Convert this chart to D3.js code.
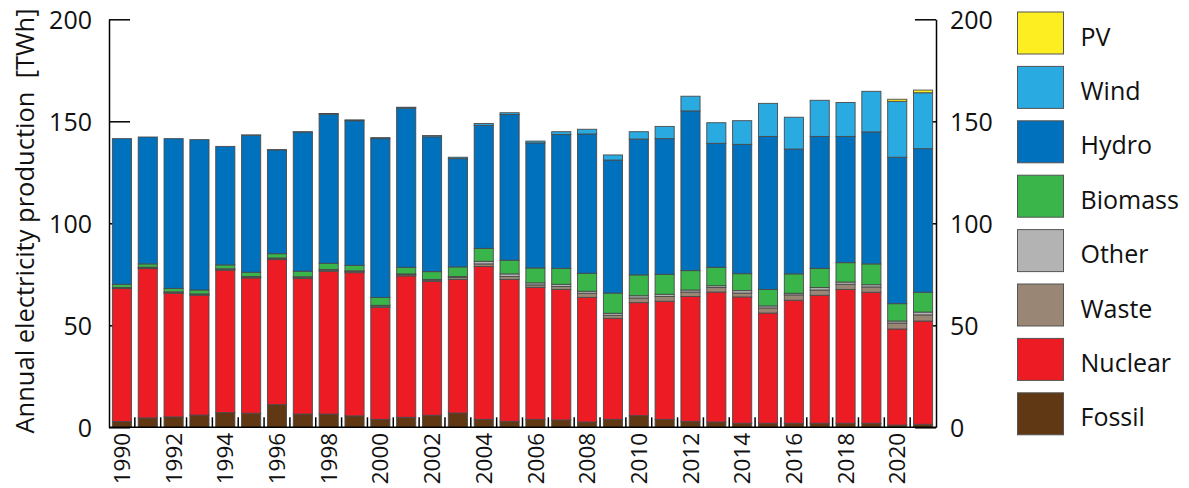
<!DOCTYPE html>
<html>
<head>
<meta charset="utf-8">
<script src="https://cdn.jsdelivr.net/npm/d3@7"></script>
<style>
  html, body { margin: 0; padding: 0; background: #fff; }
  svg { display: block; font-family: "Open Sans", sans-serif; }
</style>
</head>
<body>
<svg id="chart" width="1189" height="488"></svg>
<script>
const years = [1990,1991,1992,1993,1994,1995,1996,1997,1998,1999,2000,2001,2002,2003,2004,2005,
               2006,2007,2008,2009,2010,2011,2012,2013,2014,2015,2016,2017,2018,2019,2020,2021];
const fossil  = [2.8,4.6,5.1,6.0,7.2,6.9,11.1,6.5,6.5,5.6,3.9,4.9,5.9,7.0,3.9,2.9,3.9,3.6,2.6,3.9,5.7,3.9,2.9,2.6,2.0,2.0,2.0,2.0,2.0,2.0,1.1,1.5];
const nuclear = [65.2,73.2,60.6,58.7,69.8,66.3,71.1,66.4,70.0,70.2,54.9,69.3,65.7,65.5,74.9,69.6,64.7,64.0,61.1,49.5,55.4,57.9,61.2,63.7,61.9,54.0,60.3,62.7,65.6,64.2,47.1,50.6];
const waste   = [0.3,0.4,0.4,0.4,0.4,0.4,0.5,0.6,0.6,0.6,0.6,0.6,0.5,0.9,1.3,1.4,1.2,1.4,2.0,1.5,2.3,2.3,2.2,2.2,1.9,2.5,2.6,2.6,2.5,2.6,2.9,3.0];
const other   = [0.2,0.3,0.3,0.3,0.3,0.3,0.3,0.3,0.3,0.3,0.4,0.4,0.4,0.5,1.3,1.3,1.0,1.1,1.0,1.0,1.1,1.1,1.0,0.9,1.2,1.0,0.8,1.2,1.1,1.1,1.0,1.4];
const biomass = [1.6,1.6,1.7,1.9,1.9,2.1,2.1,2.7,3.0,2.7,3.8,3.2,3.8,4.7,6.3,6.7,7.3,7.8,8.8,9.9,10.2,9.8,9.5,9.0,8.3,8.1,9.5,9.4,9.5,10.2,8.5,9.7];
const hydro   = [71.4,62.2,73.4,73.7,58.1,67.2,50.9,68.2,73.1,70.9,77.9,78.0,66.1,53.1,60.3,71.4,61.3,65.6,68.3,65.2,66.6,66.5,78.3,60.8,63.4,75.0,61.2,64.7,61.9,64.7,71.8,70.4];
const wind    = [0,0,0,0,0,0.1,0.1,0.2,0.3,0.4,0.5,0.5,0.6,0.7,0.9,0.9,0.9,1.4,2.3,2.5,3.6,6.0,7.2,10.1,11.6,16.2,15.6,17.7,16.6,19.9,27.4,27.4];
const pv      = [0,0,0,0,0,0,0,0,0,0,0,0,0,0,0,0,0,0,0,0,0,0,0,0,0,0,0,0,0,0,1.0,1.3];

const seriesKeys   = ["fossil","nuclear","waste","other","biomass","hydro","wind","pv"];
const seriesNames  = ["Fossil","Nuclear","Waste","Other","Biomass","Hydro","Wind","PV"];
const seriesColors = ["#603813","#ED1C24","#998675","#B3B3B3","#39B54A","#0071BC","#29ABE2","#FCEE21"];
const yTicks = [0,50,100,150,200];
const xLabelYears = [1990,1992,1994,1996,1998,2000,2002,2004,2006,2008,2010,2012,2014,2016,2018,2020];
const yTitle = "Annual electricity production  [TWh]";

const seriesData = {fossil, nuclear, waste, other, biomass, hydro, wind, pv};
const table = years.map((yr, i) => {
  const row = {year: yr};
  seriesKeys.forEach(k => row[k] = seriesData[k][i]);
  return row;
});

const svg = d3.select("#chart");
const plotLeft = 109, plotRight = 936, plotTop = 19.3, plotBottom = 427.3;

const x = d3.scaleBand().domain(years).range([plotLeft, plotRight]).paddingInner(0.26).paddingOuter(0.13);
const y = d3.scaleLinear().domain([0, 200]).range([plotBottom, plotTop]);
const color = d3.scaleOrdinal().domain(seriesKeys).range(seriesColors);

// Left axis (ticks inward, drawn beneath bars)
const gL = svg.append("g").attr("transform", `translate(${plotLeft},0)`)
  .call(d3.axisLeft(y).tickValues(yTicks).tickSize(-21).tickSizeOuter(0).tickPadding(17));
// Right axis
const gR = svg.append("g").attr("transform", `translate(${plotRight},0)`)
  .call(d3.axisRight(y).tickValues(yTicks).tickSize(-21).tickSizeOuter(0).tickPadding(14));
[gL, gR].forEach(g => {
  g.selectAll(".domain").attr("stroke", "#000").attr("stroke-width", 1.5);
  g.selectAll(".tick line").attr("stroke", "#000").attr("stroke-width", 1.5);
  g.selectAll(".tick text").attr("font-size", 25).attr("fill", "#111")
    .attr("font-family", "'Open Sans', sans-serif").attr("dy", "0.36em");
});

// Stacked bars
const stack = d3.stack().keys(seriesKeys)(table);
const barsG = svg.append("g");
barsG.selectAll("g.layer").data(stack).join("g").attr("class", "layer")
  .attr("fill", d => color(d.key))
  .selectAll("rect").data(d => d.filter(s => s[1] - s[0] > 0)).join("rect")
  .attr("x", d => x(d.data.year))
  .attr("width", x.bandwidth())
  .attr("y", d => y(d[1]))
  .attr("height", d => y(d[0]) - y(d[1]))
  .attr("stroke", "#4a4a4a")
  .attr("stroke-width", 0.9);

// Bottom axis: labels every other year, small ticks between bars
const gB = svg.append("g").attr("transform", `translate(0,${plotBottom})`)
  .call(d3.axisBottom(x).tickValues(xLabelYears).tickSize(0).tickPadding(0));
gB.select(".domain").remove();
gB.selectAll(".tick text")
  .attr("font-size", 22.5).attr("fill", "#111").attr("font-family", "'Open Sans', sans-serif")
  .attr("text-anchor", "end")
  .attr("transform", "translate(0,5.5) rotate(-90)")
  .attr("x", 0).attr("y", 0).attr("dy", "0.36em");

const gap = x.step() - x.bandwidth();
svg.append("g").selectAll("line").data(years.slice(1)).join("line")
  .attr("x1", d => x(d) - gap / 2).attr("x2", d => x(d) - gap / 2)
  .attr("y1", plotBottom).attr("y2", plotBottom - 10)
  .attr("stroke", "#000").attr("stroke-width", 1.5);
svg.append("line").attr("x1", plotLeft).attr("x2", plotRight).attr("y1", plotBottom).attr("y2", plotBottom)
  .attr("stroke", "#000").attr("stroke-width", 1.5);

// Y title
svg.append("text")
  .attr("transform", `translate(34,221) rotate(-90)`)
  .attr("text-anchor", "middle")
  .attr("font-size", 25.5)
  .attr("fill", "#111")
  .style("white-space", "pre")
  .text(yTitle);

// Legend (top to bottom: PV ... Fossil)
const legendOrder = seriesKeys.slice().reverse();
const lg = svg.append("g").selectAll("g").data(legendOrder).join("g")
  .attr("transform", (d, i) => `translate(1017.5,${12 + i * 54.4})`);
lg.append("rect").attr("width", 46).attr("height", 42)
  .attr("fill", d => color(d)).attr("stroke", "#555").attr("stroke-width", 1);
lg.append("text").attr("x", 63).attr("y", 33.5)
  .attr("font-size", 25).attr("fill", "#111")
  .text(d => seriesNames[seriesKeys.indexOf(d)]);
</script>
</body>
</html>
